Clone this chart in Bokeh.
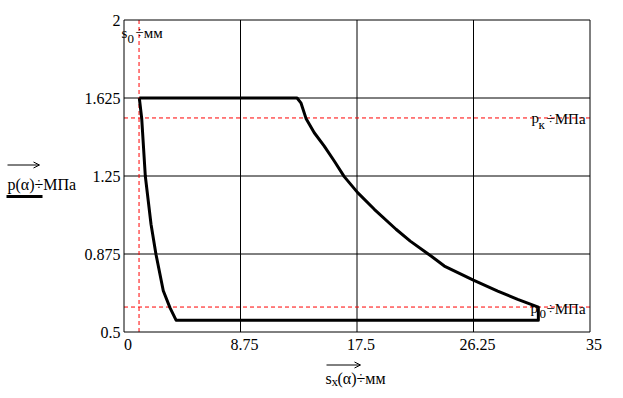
from bokeh.plotting import figure
from bokeh.models import Label, LabelSet, Arrow, OpenHead, Range1d, ColumnDataSource
from bokeh.embed import file_html
from bokeh.resources import INLINE

# ---- data ----
# closed indicator diagram: s_x(alpha) [mm] vs p(alpha) [MPa]
s_x = [1.15, 13.0, 13.3, 13.67, 14.29, 15.04, 15.79, 16.54, 17.55, 18.80,
       20.43, 21.50, 23.06, 24.06, 26.24, 28.07, 29.57, 31.12, 31.12,
       3.91, 3.45, 2.95, 2.40, 2.03, 1.60, 1.33, 1.15]
p_a = [1.625, 1.625, 1.600, 1.527, 1.458, 1.394, 1.322, 1.247, 1.170, 1.090,
       0.994, 0.937, 0.865, 0.817, 0.749, 0.697, 0.657, 0.620, 0.557,
       0.557, 0.617, 0.698, 0.874, 1.018, 1.250, 1.527, 1.625]

s0 = 1.13      # mm
p_k = 1.529    # MPa
p_0 = 0.62     # MPa

x_ticks = [0, 8.75, 17.5, 26.25, 35]
x_tick_labels = ["0", "8.75", "17.5", "26.25", "35"]
y_ticks = [0.5, 0.875, 1.25, 1.625, 2]
y_tick_labels = ["0.5", "0.875", "1.25", "1.625", "2"]

# ---- layout (Mathcad-style plot box placed inside the canvas) ----
FONT = "Liberation Serif"
W, H = 620, 396
BOX_L, BOX_R, BOX_T, BOX_B = 123.5, 589.5, 19.5, 331.5   # pixel edges of the plot box
kx = (BOX_R - BOX_L) / (x_ticks[-1] - x_ticks[0])
ky = (BOX_B - BOX_T) / (y_ticks[-1] - y_ticks[0])
x_start = x_ticks[0] - BOX_L / kx
y_end = y_ticks[-1] + BOX_T / ky

p = figure(width=W, height=H,
           x_range=Range1d(x_start, x_start + W / kx),
           y_range=Range1d(y_end - H / ky, y_end),
           x_axis_type=None, y_axis_type=None, min_border=0,
           output_backend="svg", toolbar_location=None)
p.background_fill_color = "white"
p.border_fill_color = "white"
p.outline_line_color = None

x0, x1, y0, y1 = x_ticks[0], x_ticks[-1], y_ticks[0], y_ticks[-1]

# grid lines and plot box
inner_x = x_ticks[1:-1]
inner_y = y_ticks[1:-1]
p.segment(x0=inner_x, y0=[y0] * len(inner_x), x1=inner_x, y1=[y1] * len(inner_x),
          line_color="black", line_width=1)
p.segment(x0=[x0] * len(inner_y), y0=inner_y, x1=[x1] * len(inner_y), y1=inner_y,
          line_color="black", line_width=1)

# red dashed marker lines
p.segment(x0=[s0, x0, x0], y0=[y0, p_k, p_0], x1=[s0, x1, x1], y1=[y1, p_k, p_0],
          line_color="red", line_width=1, line_dash="4 3")

p.quad(left=[x0], right=[x1], bottom=[y0], top=[y1], fill_color=None,
       line_color="black", line_width=1)

# the cycle curve
p.line(s_x, p_a, line_color="black", line_width=3, line_join="round")

# tick labels
xt = ColumnDataSource(dict(x=x_ticks, text=x_tick_labels))
p.add_layout(LabelSet(x="x", y=H - 349, x_units="data", y_units="screen", text="text",
                      source=xt, x_offset=4, text_font=FONT, text_font_size="16px",
                      text_color="black", text_align="center",
                      text_baseline="alphabetic"))
yt = ColumnDataSource(dict(y=y_ticks, text=y_tick_labels))
p.add_layout(LabelSet(x=120, y="y", x_units="screen", y_units="data", text="text",
                      source=yt, text_font=FONT, text_font_size="16px",
                      text_color="black", text_align="right",
                      text_baseline="middle"))


def lab(text, px, py, size="15px"):
    # px, py: left end and baseline of the text in canvas pixels (from top-left)
    p.add_layout(Label(x=px, y=H - py, x_units="screen", y_units="screen", text=text,
                       text_font=FONT, text_font_size=size, text_color="black",
                       text_baseline="alphabetic", text_align="left"))


def arrow(xa, xb, py, head=True, width=1):
    p.add_layout(Arrow(end=OpenHead(size=6, line_width=1, line_color="black") if head else None,
                       start=None, x_start=xa, y_start=H - py, x_end=xb, y_end=H - py,
                       start_units="screen", end_units="screen",
                       line_color="black", line_width=width))


# y axis title with vector arrow and trace sample line
lab("p(α)÷МПа", 7, 184, "16px")
arrow(7, 39, 164.5)
arrow(6, 42, 196, head=False, width=3)

# x axis title with vector arrow
lab("s", 325, 378, "16px")
lab("x", 331, 381, "13px")
lab("(α)÷мм", 337, 378, "16px")
arrow(326, 360, 364.5)

# s0 marker label
lab("s", 121, 32)
lab("0", 127, 38, "13px")
lab("÷мм", 135, 32)

# p_k marker label
lab("p", 531, 117)
lab("к", 538, 124, "13px")
lab("÷МПа", 546, 118)

# p_0 marker label
lab("p", 530, 307)
lab("0", 539, 313, "13px")
lab("÷МПа", 546, 308)

open("out.html", "w").write(file_html(p, INLINE))
